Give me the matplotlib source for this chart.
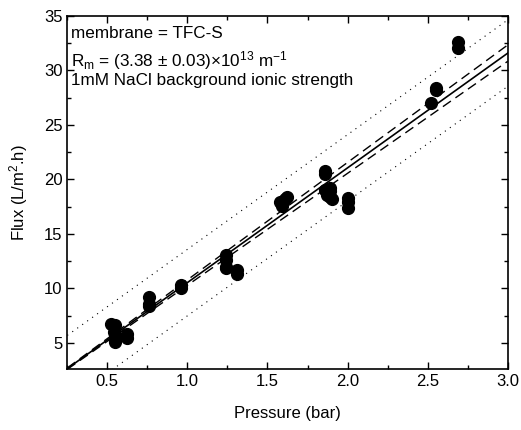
import numpy as np
import matplotlib
matplotlib.use("Agg")
import matplotlib.pyplot as plt
from matplotlib.ticker import MultipleLocator

plt.rcParams['font.family'] = ['Liberation Sans', 'DejaVu Sans']
plt.rcParams['mathtext.fontset'] = 'custom'
plt.rcParams['mathtext.rm'] = 'Liberation Sans'
plt.rcParams['mathtext.it'] = 'Liberation Sans:italic'

# measured points (pressure in bar, flux in L/m2.h)
pressure = [0.52, 0.55, 0.54, 0.55, 0.55, 0.55, 0.62, 0.62,
            0.76, 0.76, 0.76, 0.96, 0.96,
            1.24, 1.24, 1.24, 1.24, 1.31, 1.31,
            1.58, 1.59, 1.61, 1.62,
            1.86, 1.86, 1.86, 1.87, 1.89, 1.89, 1.89, 1.90,
            2.00, 2.00, 2.00,
            2.52, 2.55, 2.55, 2.69, 2.69]
flux = [6.7, 6.6, 6.0, 5.7, 5.3, 5.1, 5.8, 5.4,
        9.2, 8.6, 8.4, 10.3, 10.0,
        13.1, 12.6, 12.0, 11.9, 11.7, 11.3,
        17.9, 17.6, 18.2, 18.4,
        20.8, 20.5, 19.0, 18.6, 19.2, 18.9, 18.4, 18.2,
        18.3, 17.9, 17.4,
        27.0, 28.2, 28.4, 32.1, 32.6]

# fit through origin
fit_slope = 10.53
conf_coef = 0.25     # 95% confidence half-width per bar
pred_half = 3.05     # 95% prediction half-width

xf = np.linspace(0.25, 3.0, 200)
yf = fit_slope * xf
conf = conf_coef * xf

fig = plt.figure(figsize=(5.21, 4.30), dpi=100)
ax = fig.add_axes([0.1292, 0.1412, 0.8453, 0.8216])

ax.plot(xf, yf, color='black', lw=1.2)
ax.plot(xf, yf + conf, color='black', lw=1.0, ls=(0, (7, 4)))
ax.plot(xf, yf - conf, color='black', lw=1.0, ls=(0, (7, 4)))
ax.plot(xf, yf + pred_half, color='black', lw=0.8, ls=(0, (1, 4.5)))
ax.plot(xf, yf - pred_half, color='black', lw=0.8, ls=(0, (1, 4.5)))
ax.scatter(pressure, flux, s=72, color='black', zorder=3)

ax.set_xlim(0.25, 3.0)
ax.set_ylim(2.57, 35)
ax.xaxis.set_major_locator(MultipleLocator(0.5))
ax.xaxis.set_minor_locator(MultipleLocator(0.25))
ax.yaxis.set_major_locator(MultipleLocator(5))
ax.yaxis.set_minor_locator(MultipleLocator(2.5))
ax.tick_params(which='both', direction='in', top=True, right=True, labelsize=12, width=1.0)
ax.tick_params(which='major', length=5)
ax.tick_params(which='minor', length=3)
for sp in ax.spines.values():
    sp.set_linewidth(1.2)

ax.set_xlabel('Pressure (bar)', fontsize=12, labelpad=12)
ax.set_ylabel(r'Flux (L/m$^2$.h)', fontsize=12, labelpad=10)

ax.text(0.008, 0.972, 'membrane = TFC-S', transform=ax.transAxes, fontsize=12.3, va='top')
ax.text(0.008, 0.905, r'R$_{\rm m}$ = (3.38 ± 0.03)×10$^{13}$ m$^{-1}$',
        transform=ax.transAxes, fontsize=12.3, va='top')
ax.text(0.008, 0.838, '1mM NaCl background ionic strength', transform=ax.transAxes,
        fontsize=12.3, va='top')

fig.savefig('out.png', dpi=100)
